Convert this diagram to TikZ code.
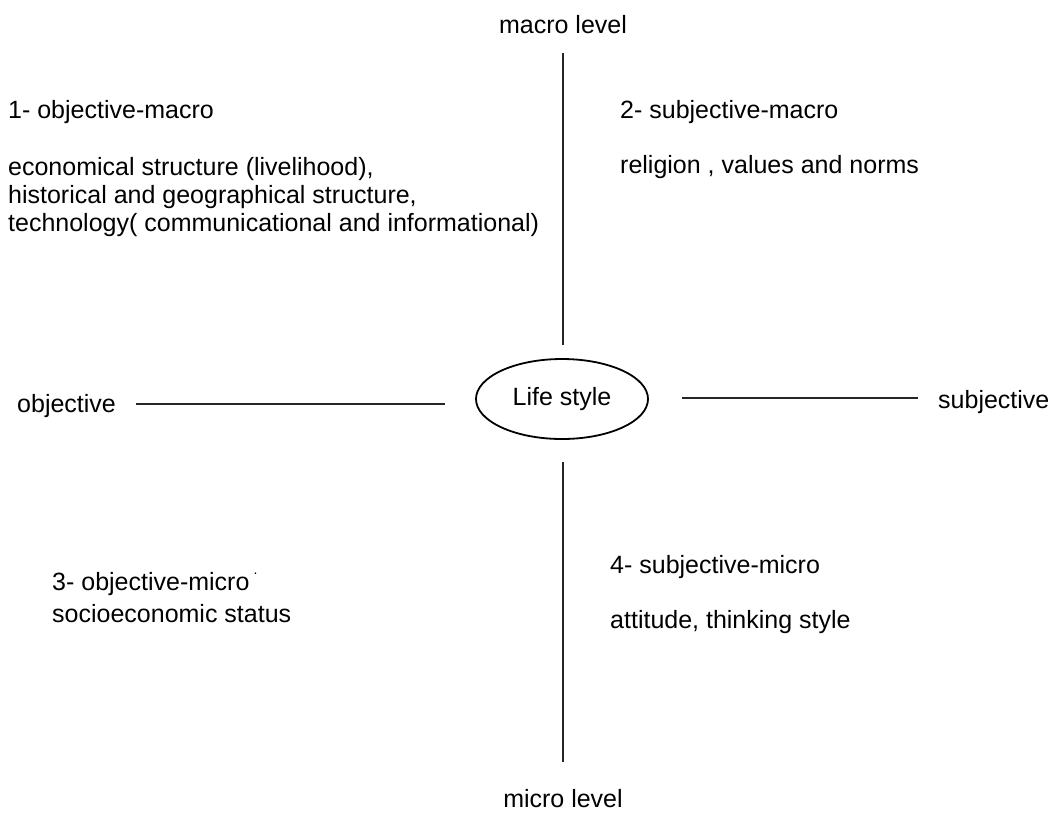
\documentclass[tikz,border=0pt]{standalone}
\usepackage{fontspec}
\setmainfont{Liberation Sans}
\usetikzlibrary{shapes.geometric}
\begin{document}
\begin{tikzpicture}[x=1pt,y=-1pt,
  lbl/.style={inner sep=0pt, font=\fontsize{25}{28}\selectfont},
  axis/.style={line width=1.6pt, black!85},
  core/.style={ellipse, draw, line width=1.8pt, minimum width=172pt, minimum height=80pt, inner sep=0pt, font=\fontsize{25}{28}\selectfont}]
\useasboundingbox (0,0) rectangle (1051,812);
% titles
\node[lbl, anchor=base] (macro) at (563,33) {macro level};
\node[lbl, anchor=base] (micro) at (563,807) {micro level};
\node[lbl, anchor=base west] (obj) at (17,412) {objective};
\node[lbl, anchor=base west] (subj) at (938,408) {subjective};
% centre
\node[core] (life) at (562,399) {Life style};
% quadrants
\node[lbl, anchor=base west] (q1) at (8,118) {1- objective-macro};
\node[lbl, anchor=base west, align=left] (q1t) at (8,231) {economical structure (livelihood),\\historical and geographical structure,\\technology( communicational and informational)};
\node[lbl, anchor=base west] (q2) at (620,118) {2- subjective-macro};
\node[lbl, anchor=base west] (q2t) at (620,173) {religion , values and norms};
\node[lbl, anchor=base west] (q3) at (52,590) {3- objective-micro\,\raisebox{1.2ex}{\fontsize{14}{14}\selectfont .}};
\node[lbl, anchor=base west] (q3t) at (52,622) {socioeconomic status};
\node[lbl, anchor=base west] (q4) at (610,573) {4- subjective-micro};
\node[lbl, anchor=base west] (q4t) at (610,628) {attitude, thinking style};
% axis end points
\coordinate (t1) at (563,53);
\coordinate (t2) at (563,345);
\coordinate (b1) at (563,462);
\coordinate (b2) at (563,762);
\coordinate (l1) at (136,404);
\coordinate (l2) at (445,404);
\coordinate (r1) at (682,398);
\coordinate (r2) at (918,398);
\draw[axis] (t1) -- (t2);
\draw[axis] (b1) -- (b2);
\draw[axis] (l1) -- (l2);
\draw[axis] (r1) -- (r2);
\end{tikzpicture}
\end{document}
